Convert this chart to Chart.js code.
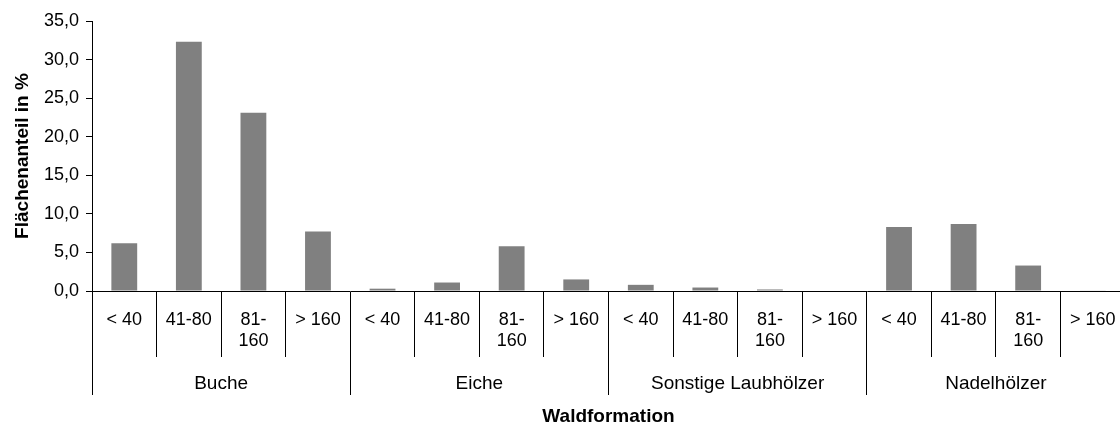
<!DOCTYPE html>
<html>
<head>
<meta charset="utf-8">
<script src="https://cdn.jsdelivr.net/npm/chart.js@4/dist/chart.umd.min.js"></script>
<style>
  html, body { margin: 0; padding: 0; background: #fff; overflow: hidden; width: 1120px; height: 426px; }
  #wrap { position: absolute; left: 0; top: 0; width: 1126px; height: 426px; }
</style>
</head>
<body>
<div id="wrap"><canvas id="c"></canvas></div>
<script>
const ageClasses = ['< 40', '41-80', ['81-', '160'], '> 160'];
const groups = ['Buche', 'Eiche', 'Sonstige Laubhölzer', 'Nadelhölzer'];
const buche = [6.2, 32.3, 23.1, 7.7];
const eiche = [0.3, 1.1, 5.8, 1.5];
const sonstige = [0.8, 0.45, 0.2, 0.0];
const nadel = [8.3, 8.7, 3.3, 0.05];
const yTicks = [0, 5, 10, 15, 20, 25, 30, 35];

const categories = [];
groups.forEach(() => ageClasses.forEach(a => categories.push(a)));
const values = [].concat(buche, eiche, sonstige, nadel);

const FONT = 'Arial, "Liberation Sans", sans-serif';

new Chart(document.getElementById('c'), {
  type: 'bar',
  data: {
    labels: categories,
    datasets: [{
      data: values,
      backgroundColor: '#808080',
      borderWidth: 0,
      barPercentage: 0.4,
      categoryPercentage: 1.0,
      xAxisID: 'x',
      yAxisID: 'y'
    }]
  },
  options: {
    responsive: true,
    maintainAspectRatio: false,
    animation: false,
    layout: { padding: { top: 21, left: 0, right: 1, bottom: 0 } },
    plugins: { legend: { display: false }, tooltip: { enabled: false } },
    scales: {
      y: {
        min: 0, max: 35,
        afterBuildTicks: s => { s.ticks = yTicks.map(v => ({ value: v })); },
        afterFit: s => { s.width = 92; },
        ticks: {
          color: '#000',
          font: { family: FONT, size: 18 },
          padding: 7,
          callback: v => v.toFixed(1).replace('.', ',')
        },
        grid: { drawOnChartArea: false, drawTicks: true, tickLength: 6, color: '#000' },
        border: { display: true, color: '#000', width: 1 },
        title: {
          display: true,
          text: 'Flächenanteil in %',
          color: '#000',
          font: { family: FONT, size: 19, weight: 'bold' },
          padding: { top: 11, bottom: 0 }
        }
      },
      x: {
        type: 'category',
        position: 'bottom',
        weight: 0,
        offset: true,
        afterFit: s => { s.height = 66; },
        ticks: {
          color: '#000',
          font: { family: FONT, size: 18 },
          autoSkip: false,
          maxRotation: 0,
          minRotation: 0,
          padding: -48
        },
        grid: { offset: true, drawOnChartArea: false, drawTicks: true, tickLength: 66, color: '#000', lineWidth: 1 },
        border: { display: true, color: '#000', width: 1 }
      },
      x2: {
        type: 'category',
        position: 'bottom',
        weight: 1,
        labels: groups,
        offset: true,
        afterFit: s => { s.height = 69; },
        ticks: {
          color: '#000',
          font: { family: FONT, size: 19 },
          autoSkip: false,
          maxRotation: 0,
          minRotation: 0,
          padding: -23
        },
        grid: { offset: true, drawOnChartArea: false, drawTicks: true, tickLength: 38, color: '#000', lineWidth: 1 },
        border: { display: false },
        title: {
          display: true,
          text: 'Waldformation',
          color: '#000',
          font: { family: FONT, size: 19, weight: 'bold' },
          padding: { top: 0, bottom: -2 }
        }
      }
    }
  }
});
</script>
</body>
</html>
